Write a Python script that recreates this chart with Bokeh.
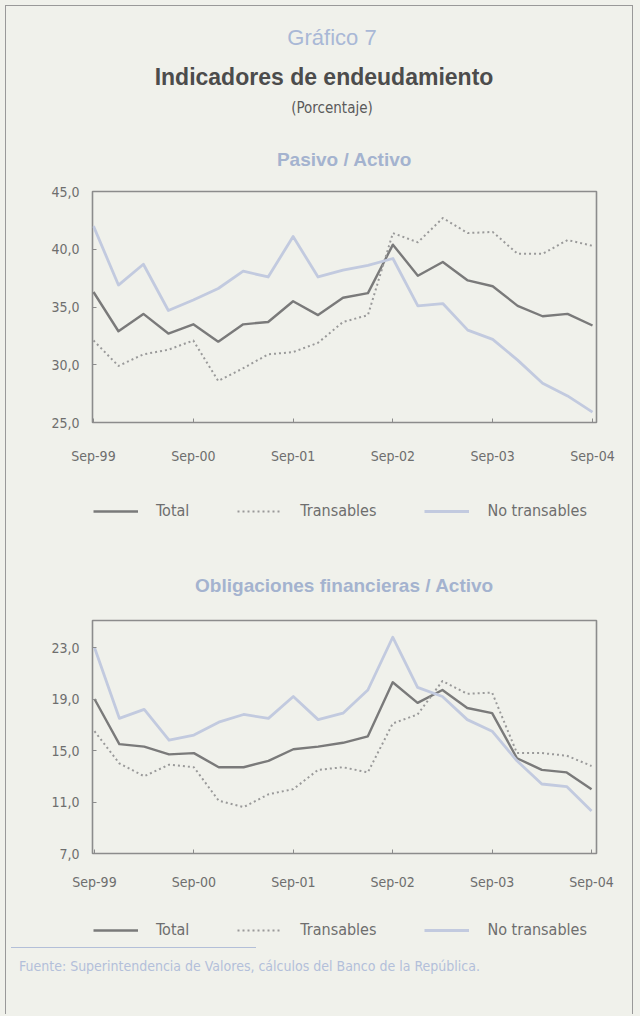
from bokeh.plotting import figure
from bokeh.models import (Range1d, FixedTicker, Title, Legend, LegendItem, Div,
                          GlobalInlineStyleSheet)
from bokeh.layouts import column
from bokeh.embed import file_html
from bokeh.resources import INLINE

# ---------------- data ----------------
quarters = ["Sep-99", "Dic-99", "Mar-00", "Jun-00", "Sep-00", "Dic-00", "Mar-01",
            "Jun-01", "Sep-01", "Dic-01", "Mar-02", "Jun-02", "Sep-02", "Dic-02",
            "Mar-03", "Jun-03", "Sep-03", "Dic-03", "Mar-04", "Jun-04", "Sep-04"]
x_tick_labels = ["Sep-99", "Sep-00", "Sep-01", "Sep-02", "Sep-03", "Sep-04"]

series_names = ["Total", "Transables", "No transables"]

pasivo_total = [36.3, 32.9, 34.4, 32.7, 33.5, 32.0, 33.5, 33.7, 35.5, 34.3, 35.8,
                36.2, 40.4, 37.7, 38.9, 37.3, 36.8, 35.1, 34.2, 34.4, 33.4]
pasivo_transables = [32.1, 29.9, 30.9, 31.3, 32.1, 28.6, 29.7, 30.9, 31.1, 31.9, 33.7,
                     34.3, 41.4, 40.6, 42.7, 41.4, 41.5, 39.6, 39.6, 40.8, 40.3]
pasivo_no_transables = [42.0, 36.9, 38.7, 34.7, 35.6, 36.6, 38.1, 37.6, 41.1, 37.6, 38.2,
                        38.6, 39.2, 35.1, 35.3, 33.0, 32.2, 30.4, 28.4, 27.3, 25.9]
pasivo_y_ticks = [25, 30, 35, 40, 45]
pasivo_y_labels = ["25,0", "30,0", "35,0", "40,0", "45,0"]

oblig_total = [19.0, 15.5, 15.3, 14.7, 14.8, 13.7, 13.7, 14.2, 15.1, 15.3, 15.6,
               16.1, 20.3, 18.7, 19.7, 18.3, 17.9, 14.4, 13.5, 13.3, 12.0]
oblig_transables = [16.5, 14.0, 13.0, 13.9, 13.7, 11.1, 10.6, 11.6, 12.0, 13.5, 13.7,
                    13.3, 17.1, 17.8, 20.4, 19.4, 19.5, 14.8, 14.8, 14.6, 13.8]
oblig_no_transables = [23.0, 17.5, 18.2, 15.8, 16.2, 17.2, 17.8, 17.5, 19.2, 17.4, 17.9,
                       19.7, 23.8, 19.9, 19.2, 17.4, 16.5, 14.2, 12.4, 12.2, 10.3]
oblig_y_ticks = [7, 11, 15, 19, 23]
oblig_y_labels = ["7,0", "11,0", "15,0", "19,0", "23,0"]

# ---------------- style ----------------
BG = "#f0f1eb"
FRAME = "#8c8c8c"
TICKTXT = "#6e6e6e"
BLUE_TXT = "#a4b3cf"
COND = "DejaVu Sans Condensed, Liberation Sans, sans-serif"
SANS = "Liberation Sans"
W = 628
line_styles = [
    dict(line_color="#7a7a7a", line_width=2.4),
    dict(line_color="#9a9a9a", line_width=2.0, line_dash="2 3"),
    dict(line_color="#c2cadf", line_width=2.8),
]


def make_chart(series, y_range, y_ticks, y_labels, x_range, height, x_standoff, title):
    xs = list(range(len(quarters)))
    p = figure(width=W, height=height,
               x_range=Range1d(*x_range), y_range=Range1d(*y_range),
               output_backend="svg", toolbar_location=None,
               min_border_left=86, min_border_right=36,
               min_border_top=0, min_border_bottom=0,
               background_fill_color=BG, border_fill_color=BG,
               outline_line_color=FRAME, outline_line_width=1.6)
    p.grid.visible = False
    for ax in (p.xaxis[0], p.yaxis[0]):
        ax.axis_line_color = None
        ax.major_tick_in = 4
        ax.major_tick_out = 0
        ax.major_tick_line_color = FRAME
        ax.minor_tick_line_color = None
        ax.major_label_text_font = COND
        ax.major_label_text_font_size = "14px"
        ax.major_label_text_color = TICKTXT
    x_tick_pos = [quarters.index(q) for q in x_tick_labels]
    p.xaxis.ticker = FixedTicker(ticks=x_tick_pos)
    p.xaxis.major_label_overrides = dict(zip(x_tick_pos, x_tick_labels))
    p.xaxis.major_label_standoff = x_standoff
    p.yaxis.ticker = FixedTicker(ticks=y_ticks)
    p.yaxis.major_label_overrides = dict(zip(y_ticks, y_labels))
    p.yaxis.major_label_standoff = 13
    for ys, st in zip(series, line_styles):
        p.line(xs, ys, line_join="round", **st)
    p.add_layout(title, "above")
    return p


def make_legend(height, loc):
    lf = figure(width=W, height=height, x_range=Range1d(0, 1), y_range=Range1d(0, 1),
                x_axis_type=None, y_axis_type=None, output_backend="svg",
                toolbar_location=None, min_border=0, outline_line_color=None,
                background_fill_color=BG, border_fill_color=BG)
    lf.grid.visible = False
    items = []
    for name, st in zip(series_names, line_styles):
        # legend-only renderer: a single missing point, nothing drawn in the frame
        r = lf.line([float("nan")], [float("nan")], **st)
        items.append(LegendItem(label=name, renderers=[r]))
    lg = Legend(items=items, orientation="horizontal", location=loc,
                glyph_width=45, glyph_height=16, label_standoff=18, spacing=48,
                border_line_color=None, background_fill_alpha=0,
                label_text_font=COND, label_text_font_size="16px",
                label_text_color=TICKTXT, margin=0, padding=0)
    lf.add_layout(lg)
    return lf


header = Div(
    width=W, height=108,
    text=('<div style="position:relative;width:628px;height:108px;">'
          '<div style="position:absolute;left:20px;top:14px;width:602px;text-align:center;'
          'line-height:1;font:22px \'Liberation Sans\',sans-serif;color:#a9b8d6;">Gráfico 7</div>'
          '<div style="position:absolute;left:4px;top:53px;width:618px;text-align:center;'
          'line-height:1;font:bold 23px \'Liberation Sans\',sans-serif;color:#4c4c4c;">'
          'Indicadores de endeudamiento</div>'
          '<div style="position:absolute;left:20px;top:88px;width:602px;text-align:center;'
          'line-height:1;font:15px \'DejaVu Sans Condensed\',\'Liberation Sans\',sans-serif;'
          'color:#5a5a5a;">(Porcentaje)</div>'
          '</div>'))

p1_title = Title(text="Pasivo / Activo", align="center", offset=-10, text_font=SANS,
                 text_font_style="bold", text_font_size="19px", text_color=BLUE_TXT,
                 standoff=44)
p1 = make_chart([pasivo_total, pasivo_transables, pasivo_no_transables],
                (25, 45), pasivo_y_ticks, pasivo_y_labels, (-0.04, 20.16),
                342, 25, p1_title)
leg1 = make_legend(82, (1, 28))

p2_title = Title(text="Obligaciones financieras / Activo", align="center", offset=-10,
                 text_font=SANS, text_font_style="bold", text_font_size="19px",
                 text_color=BLUE_TXT, standoff=49)
p2 = make_chart([oblig_total, oblig_transables, oblig_no_transables],
                (7, 25.1), oblig_y_ticks, oblig_y_labels, (-0.08, 20.2),
                344, 20, p2_title)
leg2 = make_legend(50, (1, 3))

footer = Div(
    width=W, height=62,
    text=('<div style="border-top:1.5px solid #b3bfd8;width:245px;"></div>'
          '<div style="margin:10px 0 0 8px;color:#b3bfda;'
          'font:14px \'DejaVu Sans Condensed\',\'Liberation Sans\',sans-serif;white-space:nowrap;">'
          'Fuente: Superintendencia de Valores, cálculos del Banco de la República.</div>'))

layout = column(header, p1, leg1, p2, leg2, footer, margin=(5, 0, 0, 5),
                width=W, sizing_mode="fixed",
                styles={"border-top": "1px solid #999", "border-left": "1px solid #999",
                        "border-right": "1px solid #999", "background-color": BG},
                stylesheets=[GlobalInlineStyleSheet(css="body{margin:0;background:#f0f1eb;}")])

open("out.html", "w").write(file_html(layout, INLINE))
